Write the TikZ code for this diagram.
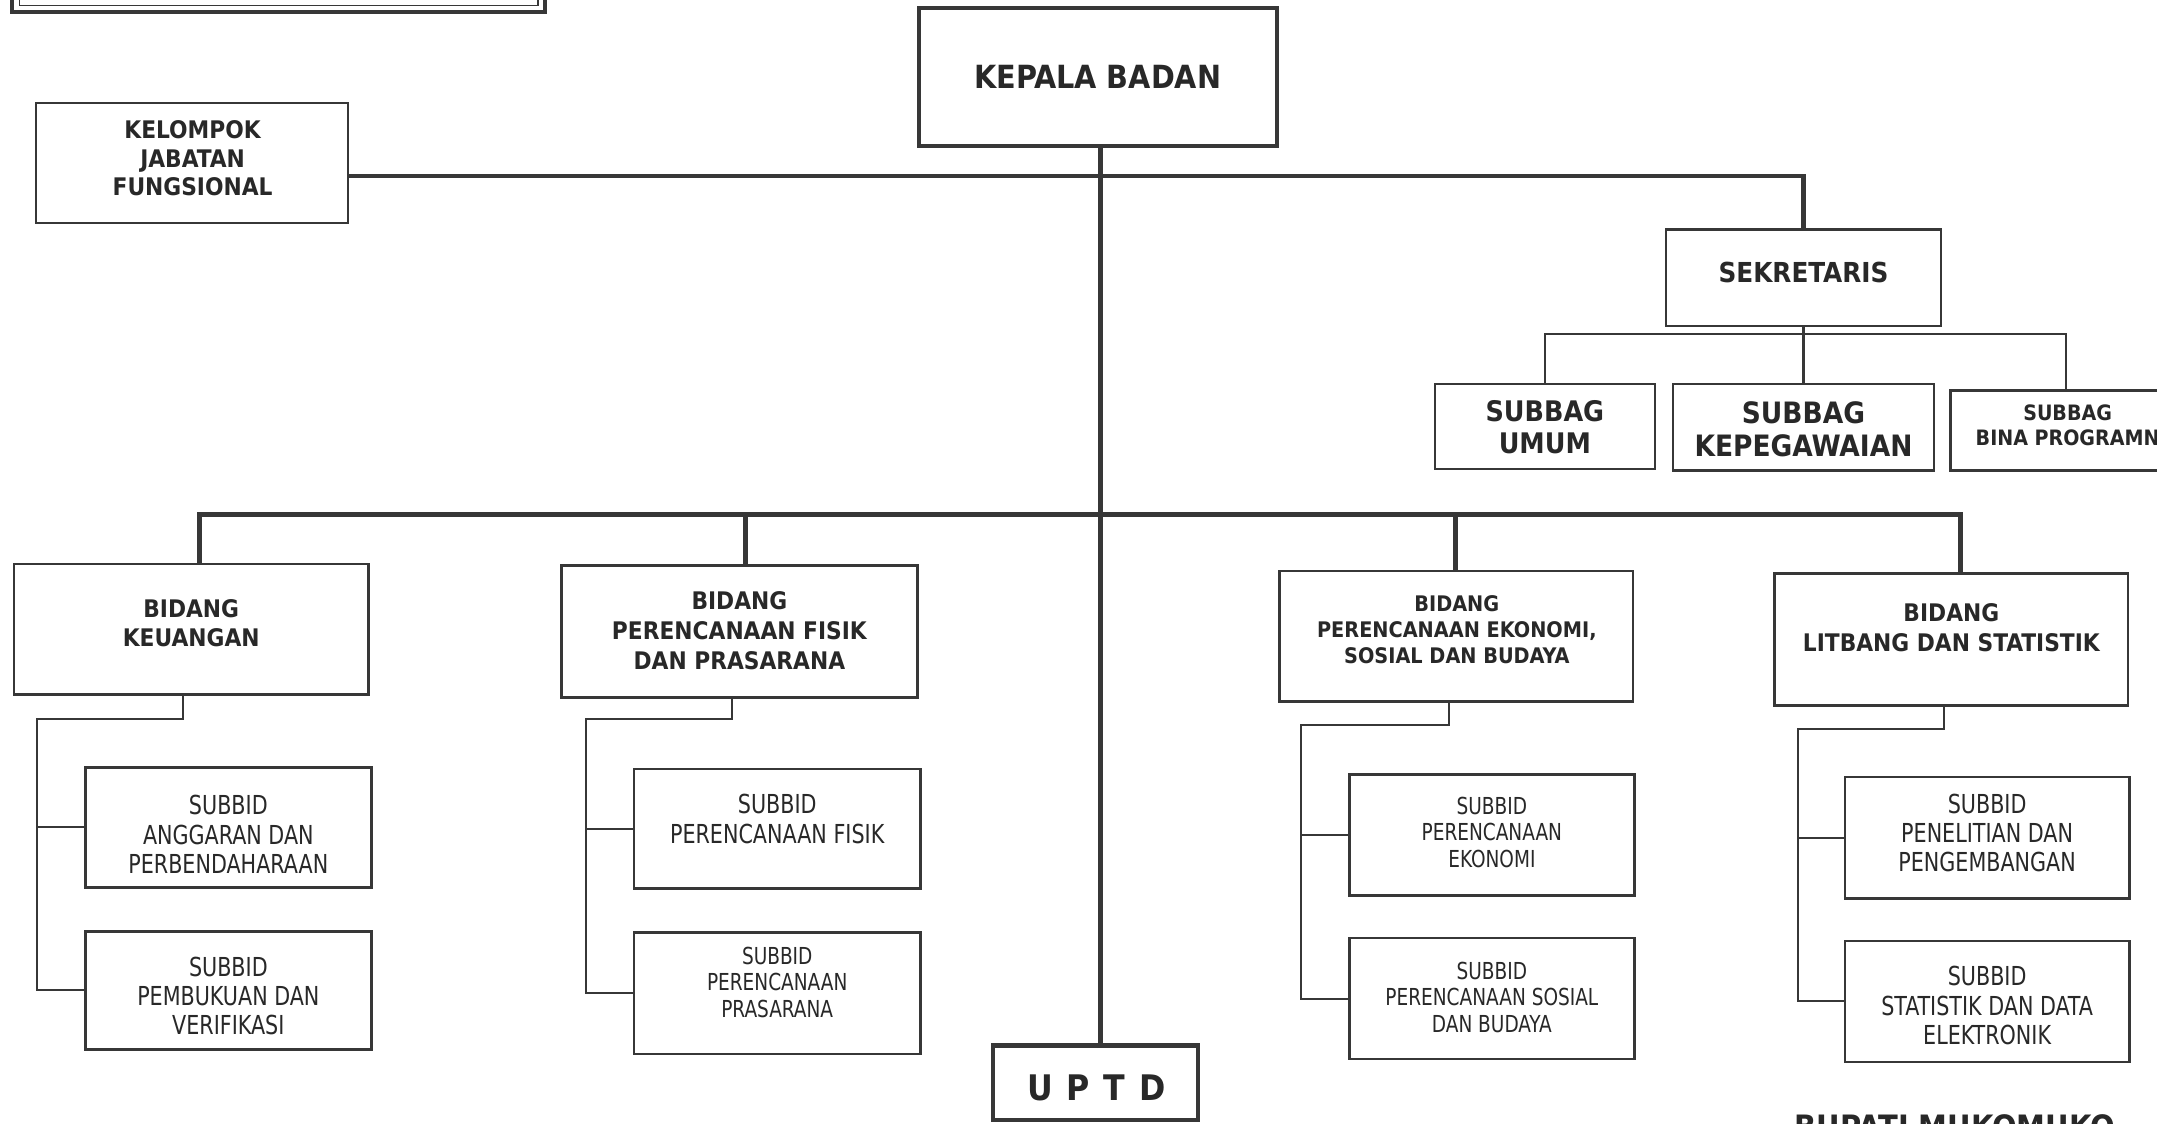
\documentclass[tikz,border=0pt]{standalone}
\usepackage{fontspec}
\setmainfont{DejaVu Sans Condensed}
\newfontfamily\narrowfont{DejaVu Sans Condensed}[FakeStretch=0.88]
\usetikzlibrary{fit}
\definecolor{ink}{RGB}{55,55,55}
\definecolor{txt}{RGB}{40,40,40}
\begin{document}
\begin{tikzpicture}[x=0.5pt,y=-0.5pt,
  box/.style={draw=ink, line width=0.9pt, inner sep=0pt},
  bigbox/.style={box, line width=1.5pt},
  lbl/.style={inner sep=0pt, align=center, text=txt, anchor=center},
  mainline/.style={draw=ink, line width=1.7pt},
  trunkline/.style={draw=ink, line width=2.1pt},
  subline/.style={draw=ink, line width=0.75pt},
  fkepala/.style={font={\fontsize{11.6}{13}\selectfont\bfseries}},
  fkel/.style={font={\fontsize{8.8}{10.5}\selectfont\bfseries}},
  fsek/.style={font={\fontsize{10}{12}\selectfont\bfseries}},
  fsubbag/.style={font={\fontsize{10.3}{11.8}\selectfont\bfseries}},
  fsubbagw/.style={font={\fontsize{10.7}{12}\selectfont\bfseries}},
  fbina/.style={font={\fontsize{7.7}{9}\selectfont\bfseries}},
  fbid/.style={font={\fontsize{8.8}{10.8}\selectfont\bfseries}},
  fbidsm/.style={font={\fontsize{7.8}{9.5}\selectfont\bfseries}},
  fsb/.style={font={\narrowfont\fontsize{9.5}{10.7}\selectfont}},
  fsbsm/.style={font={\narrowfont\fontsize{8.5}{9.6}\selectfont}},
  fuptd/.style={font={\fontsize{12.8}{14}\selectfont\bfseries}}
]
\useasboundingbox (0,0) rectangle (1568,817);
\clip (0,0) rectangle (1568,817);
\fill[white] (0,0) rectangle (1568,817);

% partial framed box at top left
\draw[ink, line width=1.5pt] (9,-30) rectangle (396,9);
\draw[ink, line width=0.5pt] (14,-30) rectangle (391,4);

% boxes
\node[bigbox, fit={(668,6) (928,106)}] (kepala) {};
\node[box, fit={(26,75) (253,162)}] (kelompok) {};
\node[box, fit={(1211,167) (1411,237)}] (sekretaris) {};
\node[box, fit={(1043,279) (1203,341)}] (umum) {};
\node[box, fit={(1216,279) (1406,342)}] (kepeg) {};
\node[box, fit={(1418,284) (1586,342)}] (bina) {};
\node[box, fit={(10,410) (268,505)}] (keu) {};
\node[box, fit={(408,411) (667,507)}] (fisik) {};
\node[box, fit={(930,415) (1187,510)}] (eko) {};
\node[box, fit={(1290,417) (1547,513)}] (lit) {};
\node[box, fit={(62,558) (270,645)}] (sa1) {};
\node[box, fit={(62,677) (270,763)}] (sa2) {};
\node[box, fit={(461,559) (669,646)}] (sf1) {};
\node[box, fit={(461,678) (669,766)}] (sf2) {};
\node[box, fit={(981,563) (1188,651)}] (se1) {};
\node[box, fit={(981,682) (1188,770)}] (se2) {};
\node[box, fit={(1341,565) (1548,653)}] (sl1) {};
\node[box, fit={(1341,684) (1548,772)}] (sl2) {};
\node[bigbox, fit={(722,760) (871,814)}] (uptd) {};

% texts
\node[lbl, fkepala] (kepala-t) at (798,56) {KEPALA BADAN};
\node[lbl, fkel] (kelompok-t) at (140,115) {KELOMPOK\\JABATAN\\FUNGSIONAL};
\node[lbl, fsek] (sekretaris-t) at (1311,198) {SEKRETARIS};
\node[lbl, fsubbag] (umum-t) at (1123,310.5) {SUBBAG\\UMUM};
\node[lbl, fsubbagw] (kepeg-t) at (1311,312) {SUBBAG\\KEPEGAWAIAN};
\node[lbl, fbina] (bina-t) at (1503,309) {SUBBAG\\BINA PROGRAMN};
\node[lbl, fbid] (keu-t) at (139,453) {BIDANG\\KEUANGAN};
\node[lbl, fbid] (fisik-t) at (537.5,458.5) {BIDANG\\PERENCANAAN FISIK\\DAN PRASARANA};
\node[lbl, fbidsm] (eko-t) at (1059,458) {BIDANG\\PERENCANAAN EKONOMI,\\SOSIAL DAN BUDAYA};
\node[lbl, fbid] (lit-t) at (1418.5,456.5) {BIDANG\\LITBANG DAN STATISTIK};
\node[lbl, fsb] (sa1-t) at (166,606.5) {SUBBID\\ANGGARAN DAN\\PERBENDAHARAAN};
\node[lbl, fsb] (sa2-t) at (166,724) {SUBBID\\PEMBUKUAN DAN\\VERIFIKASI};
\node[lbl, fsb] (sf1-t) at (565,595.5) {SUBBID\\PERENCANAAN FISIK};
\node[lbl, fsbsm] (sf2-t) at (565,714) {SUBBID\\PERENCANAAN\\PRASARANA};
\node[lbl, fsbsm] (se1-t) at (1084.5,605) {SUBBID\\PERENCANAAN\\EKONOMI};
\node[lbl, fsbsm] (se2-t) at (1084.5,725) {SUBBID\\PERENCANAAN SOSIAL\\DAN BUDAYA};
\node[lbl, fsb] (sl1-t) at (1444.5,605.5) {SUBBID\\PENELITIAN DAN\\PENGEMBANGAN};
\node[lbl, fsb] (sl2-t) at (1444.5,731) {SUBBID\\STATISTIK DAN DATA\\ELEKTRONIK};
\node[lbl, fuptd] (uptd-t) at (797,791) {U\hspace{5pt}P\hspace{5pt}T\hspace{5pt}D};

\node[anchor=north, inner sep=0pt, text=txt, font={\fontsize{11.7}{14}\selectfont\bfseries}] (bupati) at (1421,810) {BUPATI MUKOMUKO};

% helper coordinates
\coordinate (tx) at (800,0);
\coordinate (h1) at (0,128);
\coordinate (h2) at (0,374);
\coordinate (h3) at (0,243);
\coordinate (v1) at (145,0);
\coordinate (v2) at (542,0);
\coordinate (v3) at (1058,0);
\coordinate (v4) at (1425,0);

% trunk
\draw[trunkline] (kepala.south -| tx) -- (uptd.north -| tx);
% functional group and secretary
\draw[mainline] (kelompok.east |- h1) -- (sekretaris.north |- h1) -- (sekretaris.north);
\draw[subline] (sekretaris.south) -- (kepeg.north);
\draw[subline] (umum.north) -- (umum.north |- h3) -- (bina.north |- h3) -- (bina.north);
% bidang bus
\draw[mainline] (v1 |- keu.north) -- (v1 |- h2) -- (v4 |- h2) -- (v4 |- lit.north);
\draw[mainline] (v2 |- h2) -- (v2 |- fisik.north);
\draw[mainline] (v3 |- h2) -- (v3 |- eko.north);

% subbid connectors
\coordinate (ka) at (27,523);   \coordinate (kb) at (133,0);
\coordinate (fa) at (426,523);  \coordinate (fb) at (532,0);
\coordinate (ea) at (946,527);  \coordinate (eb) at (1053,0);
\coordinate (la) at (1307,530); \coordinate (lb) at (1413,0);

\draw[subline] (kb |- keu.south) -- (kb |- ka) -- (ka) |- (sa2.west);
\draw[subline] (sa1.west) -- (sa1.west -| ka);
\draw[subline] (fb |- fisik.south) -- (fb |- fa) -- (fa) |- (sf2.west);
\draw[subline] (sf1.west) -- (sf1.west -| fa);
\draw[subline] (eb |- eko.south) -- (eb |- ea) -- (ea) |- (se2.west);
\draw[subline] (se1.west) -- (se1.west -| ea);
\draw[subline] (lb |- lit.south) -- (lb |- la) -- (la) |- (sl2.west);
\draw[subline] (sl1.west) -- (sl1.west -| la);
\end{tikzpicture}
\end{document}
